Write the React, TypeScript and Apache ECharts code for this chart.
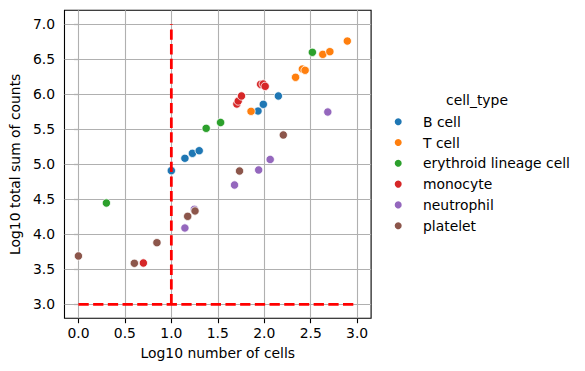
import React, { useEffect, useRef } from 'react';
import * as echarts from 'echarts';

const categories = ['B cell', 'T cell', 'erythroid lineage cell', 'monocyte', 'neutrophil', 'platelet'];
const colors = ['#1f77b4', '#ff7f0e', '#2ca02c', '#d62728', '#9467bd', '#8c564b'];

const bCell = [[1.0, 4.909], [1.146, 5.086], [1.227, 5.157], [1.3, 5.194], [1.933, 5.761], [1.99, 5.857], [2.152, 5.976]];
const tCell = [[1.858, 5.757], [2.337, 6.243], [2.41, 6.361], [2.44, 6.343], [2.63, 6.571], [2.706, 6.609], [2.894, 6.761]];
const erythroid = [[0.301, 4.447], [1.375, 5.514], [1.53, 5.597], [2.518, 6.6]];
const monocyte = [[0.699, 3.59], [1.705, 5.861], [1.72, 5.904], [1.755, 5.976], [1.961, 6.143], [1.989, 6.147], [2.01, 6.114]];
const neutrophil = [[1.146, 4.09], [1.248, 4.357], [1.68, 4.704], [1.94, 4.919], [2.064, 5.069], [2.684, 5.747]];
const platelet = [[0.0, 3.69], [0.602, 3.586], [0.845, 3.88], [1.176, 4.257], [1.255, 4.333], [1.734, 4.904], [2.205, 5.419]];
const seriesData = [bCell, tCell, erythroid, monocyte, neutrophil, platelet];

const xTicks = [0, 0.5, 1, 1.5, 2, 2.5, 3];
const yTicks = [3, 3.5, 4, 4.5, 5, 5.5, 6, 6.5, 7];
const hLine = [[0, 3], [3, 3]];
const vLine = [[1, 3], [1, 7]];

const FONT = 'DejaVu Sans';
const FS = 13.9;

export default function App() {
  const ref = useRef<HTMLDivElement>(null);
  useEffect(() => {
    document.body.style.margin = '0';
    const chart = echarts.init(ref.current!, null, { renderer: 'svg' });
    const scatterSeries = categories.map((name, i) => ({
      type: 'scatter',
      name,
      data: seriesData[i],
      symbol: 'circle',
      symbolSize: 8.3,
      z: 3,
      itemStyle: { color: colors[i], borderColor: '#ffffff', borderWidth: 0.8, opacity: 1 },
    }));
    const redLine = (data: number[][]) => ({
      type: 'line',
      data,
      symbol: 'none',
      z: 4,
      silent: true,
      lineStyle: { color: '#ff0000', width: 2.78, type: [10.3, 4.4], cap: 'butt' },
    });
    chart.setOption({
      animation: false,
      grid: {
        left: 61.2,
        top: 10.3,
        width: 309.9,
        height: 308,
        show: true,
        borderColor: '#000',
        borderWidth: 1.1,
        backgroundColor: 'transparent',
        containLabel: false,
      },
      xAxis: {
        type: 'value',
        min: -0.15,
        max: 3.15,
        name: 'Log10 number of cells',
        nameLocation: 'middle',
        nameGap: 28,
        nameTextStyle: { fontFamily: FONT, fontSize: FS, color: '#000' },
        axisLine: { show: false },
        splitLine: { show: false },
        axisTick: { show: true, customValues: xTicks, length: 4.9, lineStyle: { color: '#000', width: 1.1 } },
        axisLabel: {
          customValues: xTicks,
          formatter: (v: number) => v.toFixed(1),
          margin: 8,
          fontFamily: FONT,
          fontSize: FS,
          color: '#000',
        },
      },
      yAxis: {
        type: 'value',
        min: 2.8,
        max: 7.2,
        name: 'Log10 total sum of counts',
        nameLocation: 'middle',
        nameGap: 40,
        nameTextStyle: { fontFamily: FONT, fontSize: FS, color: '#000' },
        axisLine: { show: false },
        splitLine: { show: false },
        axisTick: { show: true, customValues: yTicks, length: 4.9, lineStyle: { color: '#000', width: 1.1 } },
        axisLabel: {
          customValues: yTicks,
          formatter: (v: number) => v.toFixed(1),
          margin: 9.5,
          fontFamily: FONT,
          fontSize: FS,
          color: '#000',
        },
      },
      legend: {
        orient: 'vertical',
        left: 394.7,
        top: 114.7,
        padding: 0,
        itemWidth: 7,
        itemHeight: 7,
        itemGap: 6.8,
        icon: 'circle',
        data: categories,
        itemStyle: { borderWidth: 0 },
        textStyle: { fontFamily: FONT, fontSize: FS, color: '#000', lineHeight: 14, padding: [0, 0, 0, 16.3] },
      },
      graphic: [
        {
          type: 'text',
          x: 477,
          y: 100,
          style: {
            text: 'cell_type',
            textAlign: 'center',
            textVerticalAlign: 'middle',
            fontFamily: FONT,
            fontSize: FS,
            fill: '#000',
          },
        },
      ],
      series: [
        {
          type: 'scatter',
          data: [],
          silent: true,
          markLine: {
            silent: true,
            symbol: 'none',
            z: 1,
            label: { show: false },
            emphasis: { disabled: true },
            lineStyle: { color: '#b0b0b0', width: 1.1, type: 'solid' },
            data: [...xTicks.map((v) => ({ xAxis: v })), ...yTicks.map((v) => ({ yAxis: v }))],
          },
        },
        ...scatterSeries,
        redLine(hLine),
        redLine(vLine),
      ],
    });
    return () => chart.dispose();
  }, []);
  return <div ref={ref} style={{ width: 585, height: 371 }} />;
}
